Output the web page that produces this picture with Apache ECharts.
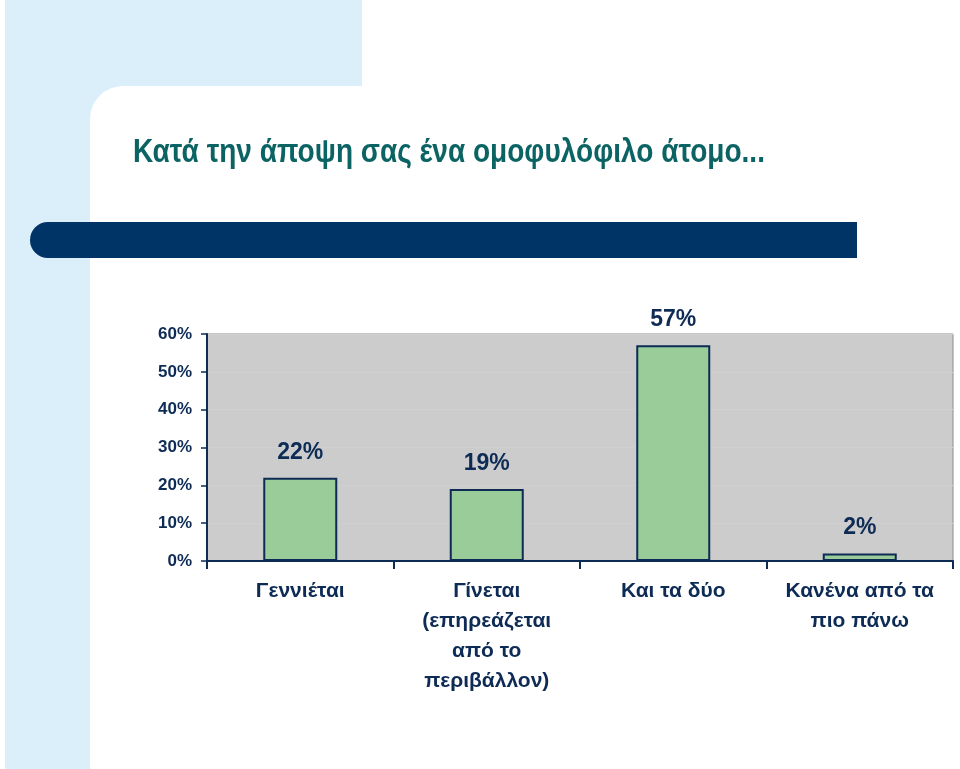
<!DOCTYPE html>
<html>
<head>
<meta charset="utf-8">
<script src="https://cdn.jsdelivr.net/npm/echarts@6/dist/echarts.min.js"></script>
<style>
html,body{margin:0;padding:0;background:#fff;}
#c{width:960px;height:769px;}
</style>
</head>
<body>
<div id="c"></div>
<script>
const titleText = 'Κατά την άποψη σας ένα ομοφυλόφιλο άτομο...';
const categories = ['Γεννιέται', 'Γίνεται\n(επηρεάζεται\nαπό το\nπεριβάλλον)', 'Και τα δύο', 'Κανένα από τα\nπιο πάνω'];
const values = [22, 19, 57, 2];
const yTicks = [0, 10, 20, 30, 40, 50, 60];

const navy = '#0d2b55';
const ff = '"Liberation Sans", Arial, sans-serif';
const chart = echarts.init(document.getElementById('c'));
chart.setOption({
  animation: false,
  graphic: [
    { type: 'rect', z: -10, shape: { x: 5, y: 0, width: 357, height: 769 }, style: { fill: '#dbeffb' } },
    { type: 'rect', z: -9, shape: { x: 90, y: 86, width: 870, height: 683, r: [33, 0, 0, 0] }, style: { fill: '#ffffff' } },
    { type: 'rect', z: -8, shape: { x: 30, y: 222, width: 827, height: 36, r: [18, 0, 0, 18] }, style: { fill: '#003366' } },
    { type: 'text', z: 10, x: 133, y: 153, scaleX: 0.85, style: { x: 0, y: 0, text: titleText, font: 'bold 33px ' + ff, fill: '#0b6363', textVerticalAlign: 'middle' } }
  ],
  grid: {
    left: 207, top: 334, width: 746, height: 227,
    show: true, backgroundColor: '#cccccc', borderColor: '#8c8c8c', borderWidth: 1
  },
  xAxis: {
    type: 'category',
    data: categories,
    boundaryGap: true,
    axisLine: { lineStyle: { color: navy, width: 2 } },
    axisTick: { show: true, length: 8, interval: 0, lineStyle: { color: navy, width: 2 } },
    axisLabel: {
      interval: 0, margin: 15, color: navy, lineHeight: 30,
      fontFamily: ff, fontWeight: 'bold', fontSize: 21
    }
  },
  yAxis: {
    type: 'value', min: 0, max: 60, interval: 10,
    axisLine: { show: true, lineStyle: { color: navy, width: 2 } },
    axisTick: { show: true, length: 6, lineStyle: { color: navy, width: 1.5 } },
    splitLine: { show: true, lineStyle: { color: '#d0d0d0', width: 1 } },
    axisLabel: {
      margin: 15, color: navy,
      fontFamily: ff, fontWeight: 'bold', fontSize: 17,
      formatter: function (v) { return yTicks.indexOf(v) >= 0 ? v + '%' : ''; }
    }
  },
  series: [{
    type: 'bar',
    data: values,
    barWidth: 74,
    itemStyle: { color: '#99cc99', borderColor: navy, borderWidth: 2 },
    label: {
      show: true, position: 'top', distance: 14, color: navy,
      fontFamily: ff, fontWeight: 'bold', fontSize: 23,
      formatter: '{c}%'
    }
  }]
});
</script>
</body>
</html>
